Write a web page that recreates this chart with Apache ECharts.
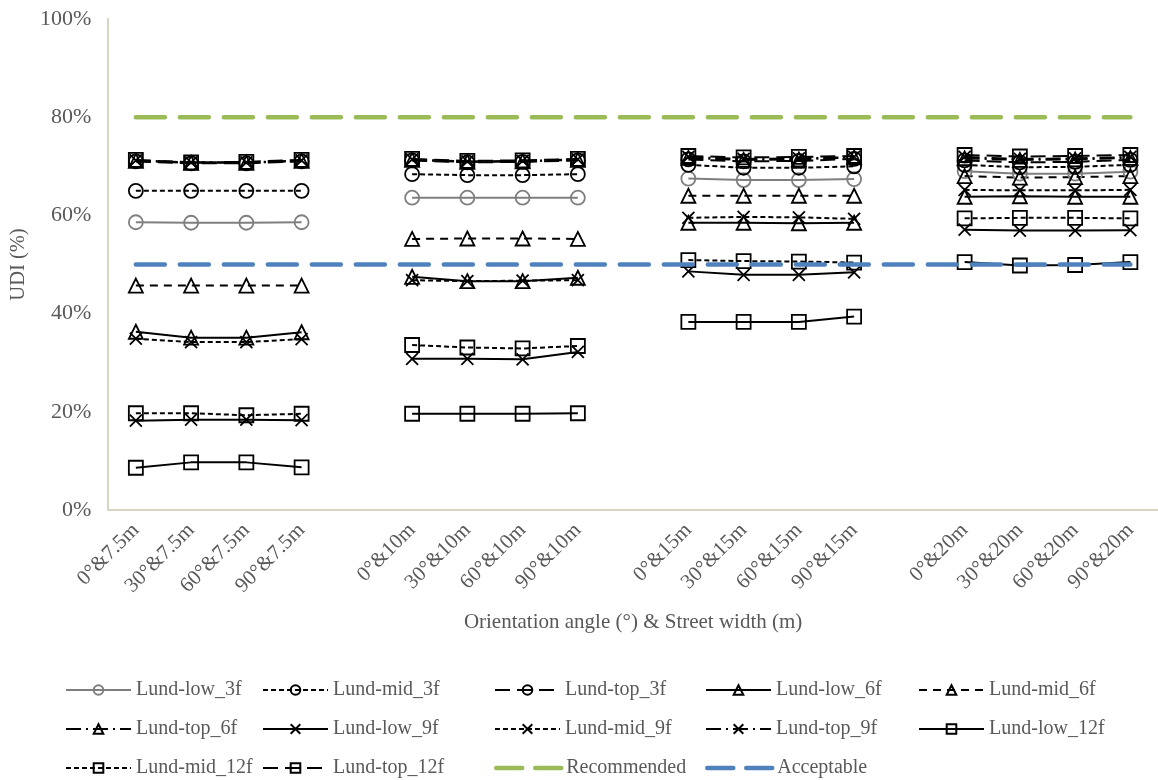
<!DOCTYPE html>
<html>
<head>
<meta charset="utf-8">
<script src="https://cdn.jsdelivr.net/npm/echarts@6/dist/echarts.min.js"></script>
<style>
  html, body { margin: 0; padding: 0; background: #fff; }
  #chart { width: 1158px; height: 780px; }
</style>
</head>
<body>
<div id="chart"></div>
<script>
// Orientation angle & street width cases, grouped by street width
const angles = ['0°', '30°', '60°', '90°'];
const widths = ['7.5m', '10m', '15m', '20m'];

// UDI (%) per case: 4 angles for each of the 4 street widths
const lowFloor3  = [58.6, 58.5, 58.5, 58.6,  63.6, 63.6, 63.6, 63.6,  67.5, 67.2, 67.2, 67.4,  69.0, 68.5, 68.5, 68.9];
const midFloor3  = [65.0, 65.0, 65.0, 65.0,  68.4, 68.2, 68.2, 68.4,  70.3, 69.7, 69.7, 70.0,  70.3, 69.8, 69.9, 70.3];
const topFloor3  = [71.0, 70.6, 70.6, 71.0,  71.2, 70.8, 70.9, 71.2,  71.4, 71.0, 71.1, 71.5,  71.2, 70.8, 70.9, 71.3];
const lowFloor6  = [36.3, 35.1, 35.1, 36.2,  47.5, 46.6, 46.6, 47.3,  58.5, 58.5, 58.4, 58.5,  63.8, 63.9, 63.8, 63.8];
const midFloor6  = [45.7, 45.7, 45.7, 45.7,  55.2, 55.3, 55.3, 55.2,  64.0, 64.0, 64.0, 64.0,  68.0, 67.7, 67.8, 68.0];
const topFloor6  = [71.1, 70.7, 70.7, 71.1,  71.3, 70.9, 71.0, 71.3,  71.7, 71.3, 71.4, 71.8,  71.6, 71.3, 71.4, 71.7];
const lowFloor9  = [18.2, 18.4, 18.4, 18.3,  30.8, 30.8, 30.7, 32.2,  48.6, 47.9, 47.9, 48.4,  57.1, 56.9, 56.9, 57.0];
const midFloor9  = [34.9, 34.2, 34.2, 34.8,  46.8, 46.6, 46.7, 46.8,  59.5, 59.7, 59.6, 59.3,  65.2, 65.1, 65.1, 65.2];
const topFloor9  = [71.2, 70.8, 70.8, 71.2,  71.4, 71.0, 71.1, 71.4,  71.9, 71.5, 71.6, 71.9,  71.9, 71.5, 71.6, 71.9];
const lowFloor12 = [ 8.6,  9.7,  9.7,  8.7,  19.6, 19.6, 19.6, 19.7,  38.3, 38.3, 38.3, 39.4,  50.5, 49.8, 49.9, 50.5];
const midFloor12 = [19.7, 19.7, 19.3, 19.6,  33.6, 33.1, 32.9, 33.4,  50.9, 50.7, 50.6, 50.4,  59.4, 59.5, 59.5, 59.4];
const topFloor12 = [71.3, 70.8, 70.9, 71.3,  71.5, 71.1, 71.2, 71.5,  72.1, 71.8, 71.9, 72.1,  72.3, 72.0, 72.1, 72.3];

// Reference thresholds (%)
const recommendedLevel = 80;
const acceptableLevel = 50;

// y-axis ticks
const yMin = 0, yMax = 100, yStep = 20;

// Build the category axis with an empty slot between street-width groups
const categories = [];
widths.forEach((w, gi) => {
  angles.forEach(a => categories.push(a + '&' + w));
  if (gi < widths.length - 1) categories.push('');
});

function withGaps(values) {
  const out = [];
  widths.forEach((w, gi) => {
    for (let i = 0; i < angles.length; i++) out.push(values[gi * angles.length + i]);
    if (gi < widths.length - 1) out.push('-');
  });
  return out;
}
const constant = v => categories.map(() => v);

const FONT = "'Times New Roman', 'Liberation Serif', serif";
const TEXT = '#595959';
const BLACK = '#000000';
const GREY = '#7f7f7f';

const crossPath = 'path://M0,0L10,10M0,10L10,0';
const SOLID = 'solid';
const SHORT_DASH = [5, 3];
const MEDIUM_DASH = [8, 6];
const LONG_DASH = [15, 7];
const LONG_DASH_DOT = [15, 5, 2, 5];
const THRESHOLD_DASH = [29, 15];

function lineSeries(name, values, color, dash, symbol, symbolSize) {
  return {
    name: name,
    type: 'line',
    data: withGaps(values),
    connectNulls: false,
    symbol: symbol,
    symbolSize: symbolSize,
    showSymbol: true,
    lineStyle: { color: color, width: 2, type: dash },
    itemStyle: { color: 'rgba(255,255,255,0)', borderColor: color, borderWidth: 1.8 },
    emphasis: { disabled: true },
    animation: false
  };
}

function thresholdSeries(name, level, color) {
  return {
    name: name, type: 'line', data: constant(level),
    symbol: 'none', showSymbol: false,
    lineStyle: { color: color, width: 4.5, type: THRESHOLD_DASH, cap: 'round' },
    itemStyle: { color: color }, emphasis: { disabled: true }, animation: false, z: 5
  };
}

const series = [
  lineSeries('Lund-low_3f',  lowFloor3,  GREY,  SOLID,        'circle',   14),
  lineSeries('Lund-mid_3f',  midFloor3,  BLACK, SHORT_DASH,   'circle',   14),
  lineSeries('Lund-top_3f',  topFloor3,  BLACK, LONG_DASH,    'circle',   14),
  lineSeries('Lund-low_6f',  lowFloor6,  BLACK, SOLID,        'triangle', 14),
  lineSeries('Lund-mid_6f',  midFloor6,  BLACK, MEDIUM_DASH,  'triangle', 14),
  lineSeries('Lund-top_6f',  topFloor6,  BLACK, LONG_DASH_DOT,'triangle', 14),
  lineSeries('Lund-low_9f',  lowFloor9,  BLACK, SOLID,        crossPath,  12),
  lineSeries('Lund-mid_9f',  midFloor9,  BLACK, SHORT_DASH,   crossPath,  12),
  lineSeries('Lund-top_9f',  topFloor9,  BLACK, LONG_DASH_DOT,crossPath,  12),
  lineSeries('Lund-low_12f', lowFloor12, BLACK, SOLID,        'rect',     14),
  lineSeries('Lund-mid_12f', midFloor12, BLACK, SHORT_DASH,   'rect',     14),
  lineSeries('Lund-top_12f', topFloor12, BLACK, LONG_DASH,    'rect',     14),
  thresholdSeries('Recommended', recommendedLevel, '#9bbb59'),
  thresholdSeries('Acceptable', acceptableLevel, '#4f81bd')
];

// Legend laid out as a 5-column table, one legend component per entry
const legendCols = [60, 257, 489, 700, 913];
const legendRows = [675, 714, 753];
const legends = series.map((s, i) => {
  const isThreshold = s.symbol === 'none';
  return {
    data: [isThreshold ? { name: s.name, itemStyle: { opacity: 0 } } : s.name],
    left: legendCols[i % 5],
    top: legendRows[Math.floor(i / 5)],
    itemWidth: 65,
    itemHeight: 12,
    selectedMode: false,
    lineStyle: isThreshold ? { width: 4.5, type: [26, 13], cap: 'round' } : {},
    textStyle: { fontFamily: FONT, fontSize: 20, color: TEXT }
  };
});

const chart = echarts.init(document.getElementById('chart'), null, { renderer: 'canvas' });
chart.setOption({
  backgroundColor: '#ffffff',
  animation: false,
  grid: { left: 108, right: 0, top: 19, bottom: 270, containLabel: false },
  legend: legends,
  xAxis: {
    type: 'category',
    data: categories,
    boundaryGap: true,
    axisLine: { show: true, lineStyle: { color: '#d9d5c3', width: 2 } },
    axisTick: { show: false },
    axisLabel: { rotate: 45, interval: 0, margin: 17, fontFamily: FONT, fontSize: 21, color: TEXT },
    name: 'Orientation angle (°) & Street width (m)',
    nameLocation: 'middle',
    nameGap: 102,
    nameTextStyle: { fontFamily: FONT, fontSize: 21, color: TEXT }
  },
  yAxis: {
    type: 'value',
    min: yMin, max: yMax, interval: yStep,
    axisLine: { show: true, lineStyle: { color: '#d9d5c3', width: 2 } },
    axisTick: { show: false },
    splitLine: { show: false },
    axisLabel: { formatter: '{value}%', margin: 17, fontFamily: FONT, fontSize: 22, color: TEXT },
    name: 'UDI (%)',
    nameLocation: 'middle',
    nameGap: 78,
    nameTextStyle: { fontFamily: FONT, fontSize: 20.5, color: TEXT }
  },
  series: series
});
</script>
</body>
</html>
